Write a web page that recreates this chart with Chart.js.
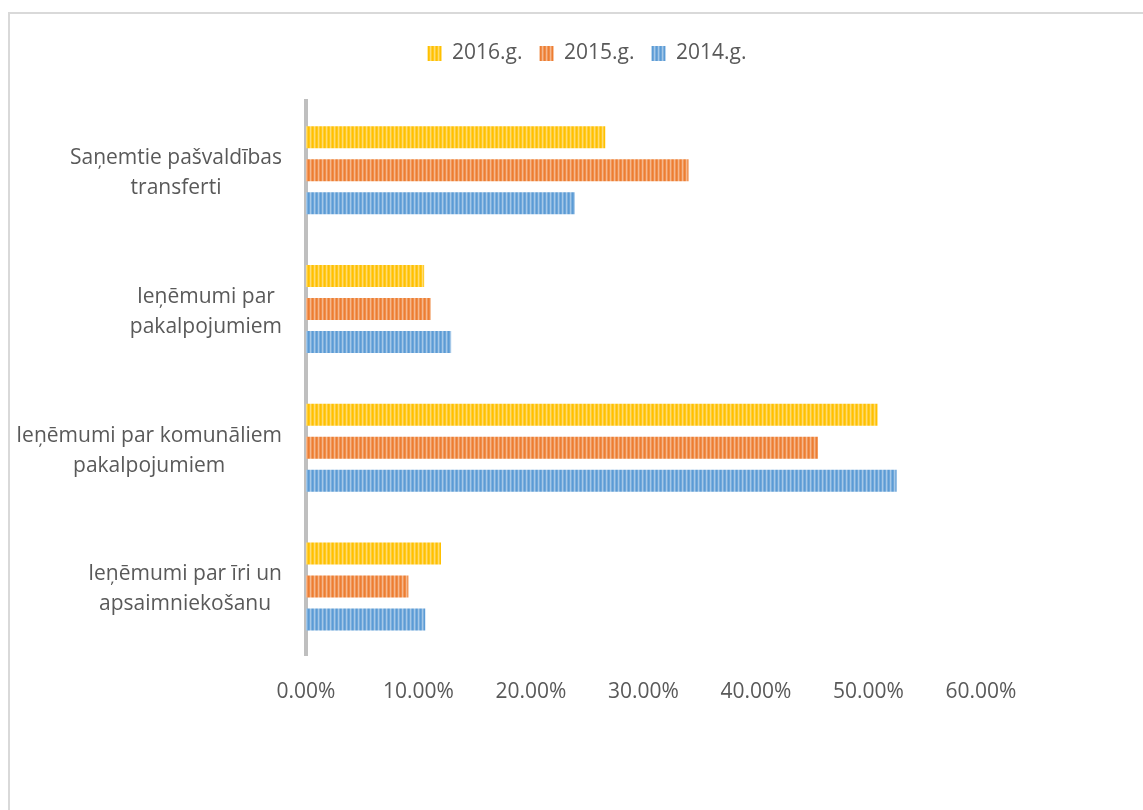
<!DOCTYPE html>
<html>
<head>
<meta charset="utf-8">
<script src="https://cdn.jsdelivr.net/npm/chart.js@4"></script>
<style>
  html, body { margin: 0; padding: 0; background: #fff; }
  #wrap { position: relative; width: 1143px; height: 810px; }
  #frame { position: absolute; left: 8px; top: 12px; right: -10px; bottom: -10px; border: 2px solid #d9d9d9; }
  canvas { position: absolute; left: 0; top: 0; }
</style>
</head>
<body>
<div id="wrap">
  <div id="frame"></div>
  <canvas id="chart" width="1143" height="810"></canvas>
</div>
<script>
// categories, top to bottom
const categories = [
  ['Saņemtie pašvaldības', 'transferti'],
  ['Ieņēmumi par ', 'pakalpojumiem'],
  ['Ieņēmumi par komunāliem', 'pakalpojumiem'],
  ['Ieņēmumi par īri un', 'apsaimniekošanu']
];
const seriesNames = ['2016.g.', '2015.g.', '2014.g.'];
const v2016 = [0.266, 0.105, 0.508, 0.120];
const v2015 = [0.340, 0.111, 0.455, 0.091];
const v2014 = [0.239, 0.129, 0.525, 0.106];
const xTicks = [0, 0.1, 0.2, 0.3, 0.4, 0.5, 0.6];

const FONT = '"Open Sans", "Noto Sans", sans-serif';
const TEXT = '#595959';

function mix(hex, t){
  const n = parseInt(hex.slice(1), 16);
  const r = n >> 16, g = (n >> 8) & 255, b = n & 255;
  const m = c => Math.round(c + (255 - c) * t);
  return `rgb(${m(r)},${m(g)},${m(b)})`;
}

// vertical stripe fill like the office pattern
function stripes(hex){
  const c = document.createElement('canvas');
  c.width = 4; c.height = 4;
  const g = c.getContext('2d');
  const cols = [hex, mix(hex, 0.12), mix(hex, 0.45), mix(hex, 0.2)];
  cols.forEach((col, i) => { g.fillStyle = col; g.fillRect(i, 0, 1, 4); });
  return g.createPattern(c, 'repeat');
}

const catLabels = {
  id: 'catLabels',
  afterInit(chart){
    // keep a fixed gap between legend and plot
    const lg = chart.legend;
    const fit = lg.fit.bind(lg);
    lg.fit = function(){ fit(); this.height = 75; };
  },
  afterDraw(chart){
    const { ctx, chartArea, scales: { y } } = chart;
    ctx.save();
    ctx.font = '21px ' + FONT;
    ctx.fillStyle = TEXT;
    ctx.textAlign = 'center';
    ctx.textBaseline = 'middle';
    categories.forEach((lines, i) => {
      const yc = y.getPixelForValue(i) + 3;
      const w = Math.max(...lines.map(l => ctx.measureText(l.trim()).width));
      const xc = chartArea.left - 24 - w / 2;
      lines.forEach((l, k) => ctx.fillText(l.trim(), xc, yc + (k - (lines.length - 1) / 2) * 30));
    });
    ctx.restore();
  }
};

const colors = ['#FFC000', '#ED7D31', '#5B9BD5'];
const values = [v2016, v2015, v2014];

new Chart(document.getElementById('chart'), {
  type: 'bar',
  data: {
    labels: categories,
    datasets: seriesNames.map((name, i) => ({
      label: name,
      data: values[i],
      backgroundColor: stripes(colors[i]),
      borderWidth: 0,
      categoryPercentage: 0.714,
      barPercentage: 0.667
    }))
  },
  options: {
    indexAxis: 'y',
    responsive: false,
    animation: false,
    devicePixelRatio: 1,
    layout: { padding: { left: 193, right: 162, top: 26, bottom: 81 } },
    plugins: {
      legend: {
        position: 'top',
        labels: {
          boxWidth: 14, boxHeight: 15,
          padding: 17,
          color: TEXT,
          font: { family: FONT, size: 21 }
        }
      },
      tooltip: { enabled: false }
    },
    scales: {
      x: {
        min: 0, max: 0.6,
        afterBuildTicks: s => { s.ticks = xTicks.map(v => ({ value: v })); },
        grid: { display: false, drawTicks: false },
        border: { display: false },
        ticks: {
          padding: 24,
          color: TEXT,
          font: { family: FONT, size: 21 },
          callback: v => (v * 100).toFixed(2) + '%'
        }
      },
      y: {
        afterFit: s => { s.width = 113; },
        grid: { display: false, drawTicks: false },
        border: { display: true, color: '#BFBFBF', width: 4 },
        ticks: { display: false }
      }
    }
  },
  plugins: [catLabels]
});
</script>
</body>
</html>
